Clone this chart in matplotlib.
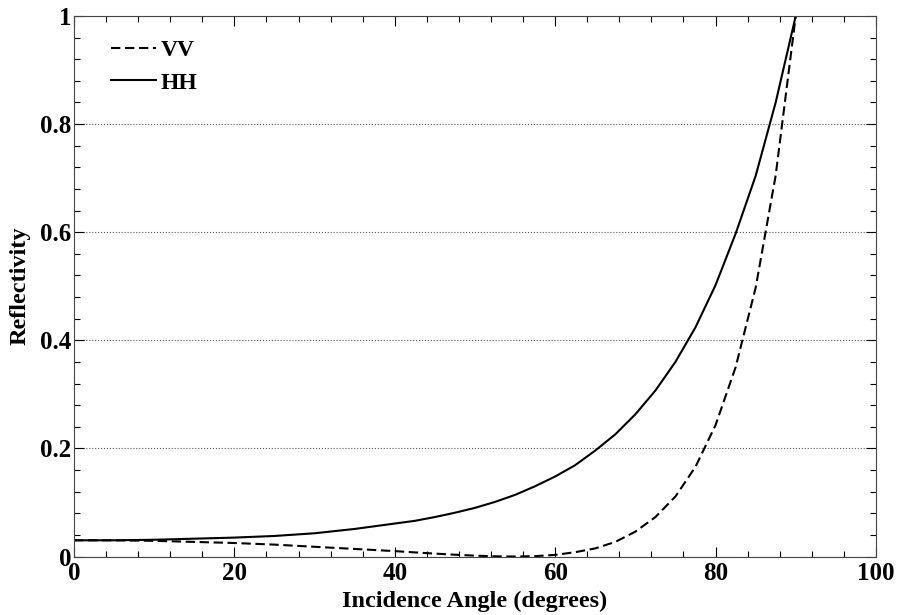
import matplotlib
matplotlib.use("Agg")
import matplotlib.pyplot as plt
from matplotlib.ticker import MultipleLocator

# incidence angle (degrees) and reflectivity
angle = [0, 5, 10, 15, 20, 25, 30, 32.5, 35, 37.5, 40, 42.5, 45, 47.5, 50,
         52.5, 55, 57.5, 60, 62.5, 65, 67.5, 70, 72.5, 75, 77.5, 80, 82.5,
         85, 87.5, 90]
hh = [0.030, 0.030, 0.031, 0.033, 0.035, 0.038, 0.043, 0.047, 0.051, 0.056,
      0.061, 0.066, 0.073, 0.081, 0.090, 0.101, 0.114, 0.130, 0.148, 0.169,
      0.196, 0.226, 0.263, 0.307, 0.360, 0.424, 0.502, 0.597, 0.704, 0.840,
      1.0]
vv = [0.030, 0.030, 0.029, 0.027, 0.025, 0.022, 0.018, 0.016, 0.014, 0.012,
      0.010, 0.0076, 0.0054, 0.0033, 0.0016, 0.0004, 0.0, 0.0007, 0.003,
      0.008, 0.015, 0.027, 0.046, 0.073, 0.111, 0.166, 0.243, 0.350, 0.497,
      0.705, 1.0]

plt.rcParams['font.family'] = ['Liberation Serif', 'DejaVu Serif']
plt.rcParams['font.weight'] = 'bold'

fig = plt.figure(figsize=(8.97, 6.15), dpi=100)
ax = fig.add_axes([0.0825, 0.0951, 0.894, 0.879])

ax.plot(angle, vv, 'k--', lw=1.5, dashes=(4.5, 2.2), label='VV')
ax.plot(angle, hh, 'k-', lw=1.5, label='HH')

ax.set_xlim(0, 100)
ax.set_ylim(0, 1)
ax.xaxis.set_minor_locator(MultipleLocator(4))
ax.yaxis.set_minor_locator(MultipleLocator(0.04))
ax.set_xticks([0, 20, 40, 60, 80, 100], ['0', '20', '40', '60', '80', '100'])
ax.set_yticks([0, 0.2, 0.4, 0.6, 0.8, 1], ['0', '0.2', '0.4', '0.6', '0.8', '1'])
ax.tick_params(which='both', direction='in', top=True, right=True,
               labelsize=18)
ax.tick_params(axis='x', pad=4)
ax.tick_params(axis='y', pad=2)
ax.tick_params(which='major', length=7, width=0.8)
ax.tick_params(which='minor', length=4, width=0.8)
ax.grid(axis='y', which='major', linestyle=':', color='#555555', lw=0.8)
for s in ax.spines.values():
    s.set_linewidth(0.8)
    s.set_color('#444444')

ax.set_xlabel('Incidence Angle (degrees)', fontsize=17.5, fontweight='bold',
              labelpad=4)
ax.set_ylabel('Reflectivity', fontsize=17.5, fontweight='bold', labelpad=7)

ax.legend(loc='upper left', frameon=False, fontsize=17, handlelength=1.9,
          handletextpad=0.2, bbox_to_anchor=(0.02, 0.995), labelspacing=0.45)

fig.savefig('out.png', dpi=100)
